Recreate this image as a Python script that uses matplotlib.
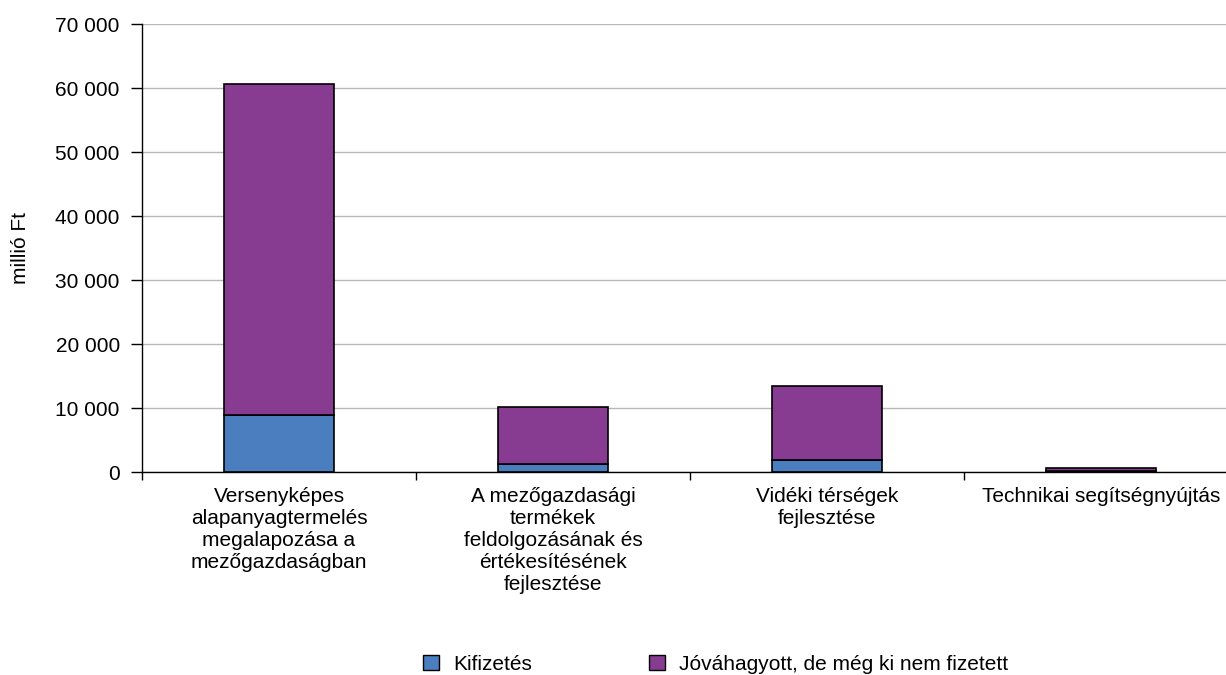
import matplotlib
matplotlib.use("Agg")
import matplotlib.pyplot as plt
from matplotlib.ticker import FuncFormatter, FixedLocator
from matplotlib.patches import Patch

categories = [
    "Versenyképes\nalapanyagtermelés\nmegalapozása a\nmezőgazdaságban",
    "A mezőgazdasági\ntermékek\nfeldolgozásának és\nértékesítésének\nfejlesztése",
    "Vidéki térségek\nfejlesztése",
    "Technikai segítségnyújtás",
]
kifizetes = [8900, 1250, 1900, 100]
jovahagyott = [51800, 8950, 11550, 550]
series_names = ["Kifizetés", "Jóváhagyott, de még ki nem fizetett"]

plt.rcParams['font.family'] = ['Liberation Sans', 'DejaVu Sans']
plt.rcParams['font.size'] = 15

fig = plt.figure(figsize=(12.26, 6.75), dpi=100)
ax = fig.add_axes([142/1226, (675-472)/675, 1096/1226, 448/675])

x = list(range(len(categories)))
blue = "#4A7EBF"
purple = "#873C92"
ax.bar(x, kifizetes, width=0.405, color=blue, edgecolor="black", linewidth=1.2, zorder=3)
ax.bar(x, jovahagyott, bottom=kifizetes, width=0.405, color=purple, edgecolor="black", linewidth=1.2, zorder=3)

ax.set_xlim(-0.5, 3.5)
ax.set_ylim(0, 70000)
ax.set_yticks(range(0, 70001, 10000))
ax.yaxis.set_major_formatter(FuncFormatter(lambda v, p: f"{int(v):,}".replace(",", " ")))
ax.yaxis.grid(True, color="#B8B8B8", linewidth=1.0, zorder=0)
ax.set_axisbelow(True)
for s in ["top", "right"]:
    ax.spines[s].set_visible(False)
ax.spines["left"].set_linewidth(1.0)
ax.spines["bottom"].set_linewidth(1.0)
ax.tick_params(axis="y", length=8, width=1, direction="out", pad=8)

ax.set_xticks(x)
ax.set_xticklabels(categories, linespacing=1.2, va="top")
ax.tick_params(axis="x", which="major", length=0, pad=11)
ax.xaxis.set_minor_locator(FixedLocator([-0.5, 0.5, 1.5, 2.5, 3.5]))
ax.tick_params(axis="x", which="minor", length=6, width=1)

ax.set_ylabel("millió Ft", labelpad=18)

handles = [Patch(facecolor=blue, edgecolor="black", linewidth=1.0),
           Patch(facecolor=purple, edgecolor="black", linewidth=1.0)]
fig.legend(handles, series_names, loc="center", bbox_to_anchor=(716/1226, 1 - 664/675),
           ncol=2, frameon=False, handlelength=0.75, handleheight=0.75,
           columnspacing=5.6, handletextpad=0.7, fontsize=15)

fig.savefig("out.png", dpi=100)
